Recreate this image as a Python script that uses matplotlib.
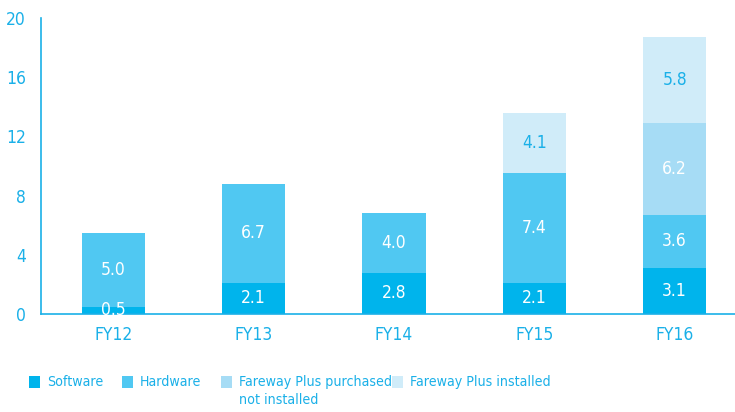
import matplotlib.pyplot as plt
from matplotlib.patches import Rectangle
import numpy as np

plt.rcParams['font.family'] = ['DejaVu Sans']
plt.rcParams['font.stretch'] = 'condensed'

years = ['FY12', 'FY13', 'FY14', 'FY15', 'FY16']
software = [0.5, 2.1, 2.8, 2.1, 3.1]
hardware = [5.0, 6.7, 4.0, 7.4, 3.6]
purchased = [0, 0, 0, 0, 6.2]
installed = [0, 0, 0, 4.1, 5.8]
series_names = ['Software', 'Hardware', 'Fareway Plus purchased\nnot installed', 'Fareway Plus installed']

blue = '#1ab0e8'
colors = ['#00b4ec', '#50c8f2', '#a6dcf5', '#d0ecf9']
text_colors = ['white', 'white', 'white', blue]

fig = plt.figure(figsize=(7.35, 4.12), dpi=100)
ax = fig.add_axes([0.056, 0.238, 0.944, 0.718])

x = np.arange(len(years))
bottom = np.zeros(len(years))
for vals, col, tcol in zip([software, hardware, purchased, installed], colors, text_colors):
    vals = np.array(vals)
    ax.bar(x, vals, 0.45, bottom=bottom, color=col, linewidth=0)
    for xi, b, v in zip(x, bottom, vals):
        if v > 0:
            ax.text(xi, b + v / 2, f'{v:.1f}', ha='center', va='center', color=tcol, fontsize=12.5)
    bottom += vals

ax.set_xlim(-0.514, 4.43)
ax.set_ylim(0, 20)
ax.set_yticks([0, 4, 8, 12, 16, 20])
ax.set_xticks(x)
ax.set_xticklabels(years)
ax.tick_params(length=0, colors=blue, labelsize=12.5, pad=9)
ax.tick_params(axis='y', pad=11)
for s in ['top', 'right']:
    ax.spines[s].set_visible(False)
for s in ['left', 'bottom']:
    ax.spines[s].set_color(blue)
    ax.spines[s].set_linewidth(1.2)

# legend
leg_x = [29, 122, 221, 392]
for lx, name, col in zip(leg_x, series_names, colors):
    fig.add_artist(Rectangle((lx / 735, 1 - 388 / 412), 11 / 735, 12 / 412,
                             transform=fig.transFigure, color=col, lw=0))
    fig.text((lx + 18) / 735, 1 - 375 / 412, name, ha='left', va='top',
             color=blue, fontsize=10.2, linespacing=1.35)

fig.savefig('out.png', dpi=100)
